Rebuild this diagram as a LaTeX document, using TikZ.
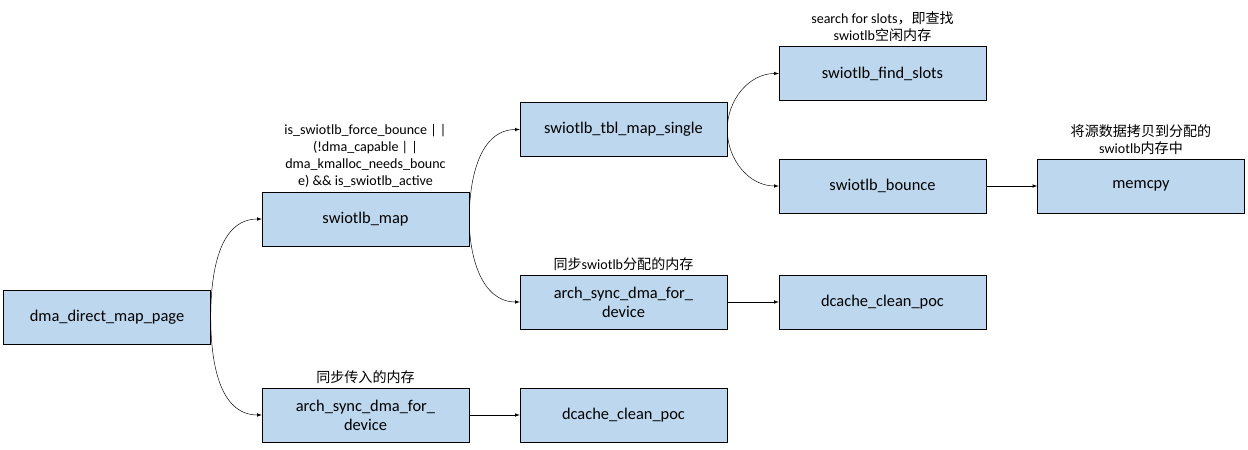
\documentclass[tikz,border=0pt]{standalone}
\usepackage{fontspec}
\setmainfont{Carlito}
\newfontfamily\cjk{Noto Sans CJK SC}
\usetikzlibrary{positioning}
\begin{document}
\begin{tikzpicture}[
    x=0.03cm, y=-0.03cm,
    box/.style={draw, fill=boxblue, minimum width=6.21cm, minimum height=1.62cm,
      align=center, font=\fontsize{14}{16}\selectfont},
    note/.style={align=center, font=\fontsize{12}{14.5}\selectfont},
    link/.style={->, >=latex}
  ]
    \definecolor{boxblue}{HTML}{BDD7EE}
    \useasboundingbox (0,0) rectangle (1248,450);
    \node[box] (map_page) at (107,317) {dma\_direct\_map\_page};
    \node[box] (swiotlb_map) at (365.5,219) {swiotlb\_map};
    \node[box] (tbl_map) at (623.5,129.5) {swiotlb\_tbl\_map\_single};
    \node[box] (find_slots) at (882.5,73.5) {swiotlb\_find\_slots};
    \node[box] (bounce) at (882.5,186) {swiotlb\_bounce};
    \node[box] (memcpy) at (1141,186) {memcpy};
    \node[box] (sync_hi) at (623.5,302) {arch\_sync\_dma\_for\_\\device};
    \node[box] (dcache_hi) at (882.5,302) {dcache\_clean\_poc};
    \node[box] (sync_lo) at (365.5,415) {arch\_sync\_dma\_for\_\\device};
    \node[box] (dcache_lo) at (623.5,415) {dcache\_clean\_poc};
    % notes
    \node[note, above=0pt of swiotlb_map] (cond)
      {is\_swiotlb\_force\_bounce | |\\(!dma\_capable | |\\dma\_kmalloc\_needs\_bounc\\e) \&\& is\_swiotlb\_active};
    \node[note, above=0pt of find_slots] (slots_note)
      {search for slots{\cjk ，即查找}\\swiotlb{\cjk 空闲内存}};
    \node[note, above=0pt of memcpy] (copy_note)
      {{\cjk 将源数据拷贝到分配的}\\swiotlb{\cjk 内存中}};
    \node[note, above=0pt of sync_hi] (sync_hi_note) {{\cjk 同步}swiotlb{\cjk 分配的内存}};
    \node[note, above=0pt of sync_lo] (sync_lo_note) {{\cjk 同步传入的内存}};
    % connectors
    \draw[link] (map_page.east) to[out=90, in=180] (swiotlb_map.west);
    \draw[link] (map_page.east) to[out=-90, in=180] (sync_lo.west);
    \draw[link] (swiotlb_map.east) to[out=90, in=180] (tbl_map.west);
    \draw[link] (swiotlb_map.east) to[out=-90, in=180] (sync_hi.west);
    \draw[link] (tbl_map.east) to[out=90, in=180] (find_slots.west);
    \draw[link] (tbl_map.east) to[out=-90, in=180] (bounce.west);
    \draw[link] (bounce) -- (memcpy);
    \draw[link] (sync_hi) -- (dcache_hi);
    \draw[link] (sync_lo) -- (dcache_lo);
  \end{tikzpicture}
\end{document}
